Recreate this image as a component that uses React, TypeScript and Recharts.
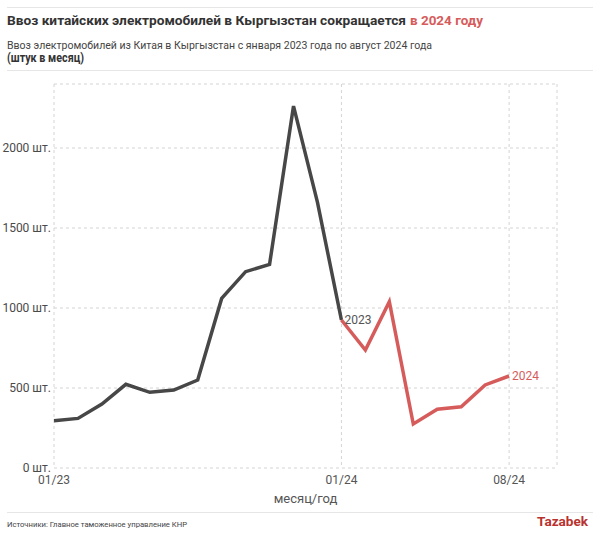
import { CartesianGrid, Line, LineChart, XAxis, YAxis } from "recharts";

// помесячный ввоз, шт.
const months = [
  "01/23", "02/23", "03/23", "04/23", "05/23", "06/23", "07/23", "08/23", "09/23", "10/23", "11/23", "12/23",
  "01/24", "02/24", "03/24", "04/24", "05/24", "06/24", "07/24", "08/24",
];
const values2023 = [295, 310, 400, 523, 473, 487, 550, 1060, 1227, 1273, 2262, 1660];
const values2024 = [925, 737, 1040, 275, 367, 383, 519, 575];
const xTicks = [0, 12, 19];
const yTicks = [0, 500, 1000, 1500, 2000];

const GRAY = "#474747";
const RED = "#d65c5c";
const FONT = "Roboto, 'Noto Sans', sans-serif";

// 2023 line runs through 01/24 so the two segments join
const data = months.map((m, i) => ({
  i,
  month: m,
  y2023: i < values2023.length ? values2023[i] : i === values2023.length ? values2024[0] : null,
  y2024: i >= values2023.length ? values2024[i - values2023.length] : null,
}));

const endLabel =
  (text: string, at: number, color: string) =>
  (p: any) =>
    p.index === at ? (
      <text x={p.x + 3} y={p.y} dy={4} fill={color} fontSize={12} fontFamily={FONT}>
        {text}
      </text>
    ) : null;

// plain text tick, no wrapping
const YTick = (p: any) => (
  <text x={p.x} y={p.y} dy={4} textAnchor="end" fill="#4a4a4a" fontSize={12} fontFamily={FONT}>
    {`${p.payload.value} шт.`}
  </text>
);

export default function App() {
  return (
    <div style={{ position: "relative", width: 600, height: 538, background: "#fff" }}>
      <style>{`body{margin:0}`}</style>

      <div style={{ position: "absolute", left: 0, top: 0 }}>
        <LineChart width={600} height={538} data={data} margin={{ top: 84, right: 43, bottom: 34, left: 0 }}>
          <CartesianGrid stroke="#d4d4d4" strokeDasharray="3 3" />
          <XAxis
            type="number"
            dataKey="i"
            domain={[0, 21]}
            ticks={xTicks}
            tickFormatter={(v) => months[v]}
            axisLine={false}
            tickLine={false}
            tickSize={0}
            tickMargin={7}
            height={36}
            tick={{ fontSize: 12, fill: "#555", fontFamily: FONT }}
            label={{ value: "месяц/год", position: "insideBottom", offset: 1, fontSize: 13, fill: "#555", fontFamily: FONT }}
          />
          <YAxis
            domain={[0, 2400]}
            ticks={yTicks}
            axisLine={false}
            tickLine={false}
            tickSize={0}
            tickMargin={3}
            width={54}
            tick={<YTick />}
          />
          <Line
            type="linear"
            dataKey="y2023"
            stroke={GRAY}
            strokeWidth={3.5}
            dot={false}
            activeDot={false}
            isAnimationActive={false}
            label={endLabel("2023", values2023.length, "#555")}
          />
          <Line
            type="linear"
            dataKey="y2024"
            stroke={RED}
            strokeWidth={3.5}
            dot={false}
            activeDot={false}
            isAnimationActive={false}
            label={endLabel("2024", months.length - 1, RED)}
          />
        </LineChart>
      </div>

      {/* header / footer as svg so widths match the narrow original font */}
      <svg width={600} height={538} style={{ position: "absolute", left: 0, top: 0, pointerEvents: "none" }} fontFamily={FONT}>
        <line x1={7} x2={593} y1={7.5} y2={7.5} stroke="#e6e6e6" />
        <text x={7} y={25} fontSize={13.4} fontWeight={700} fill="#333" textLength={399} lengthAdjust="spacingAndGlyphs">
          Ввоз китайских электромобилей в Кыргызстан сокращается
        </text>
        <text x={410} y={25} fontSize={13.4} fontWeight={700} fill={RED} textLength={73} lengthAdjust="spacingAndGlyphs">
          в 2024 году
        </text>
        <text x={7} y={49} fontSize={11.5} fill="#444" textLength={425} lengthAdjust="spacingAndGlyphs">
          Ввоз электромобилей из Китая в Кыргызстан с января 2023 года по август 2024 года
        </text>
        <text x={7} y={62} fontSize={12} fontWeight={700} fill="#333" textLength={77} lengthAdjust="spacingAndGlyphs">
          (штук в месяц)
        </text>
        <line x1={7} x2={593} y1={70.5} y2={70.5} stroke="#e6e6e6" />

        <line x1={7} x2={593} y1={512.5} y2={512.5} stroke="#e6e6e6" />
        <text x={7} y={527} fontSize={8} fill="#444" textLength={180} lengthAdjust="spacingAndGlyphs">
          Источники: Главное таможенное управление КНР
        </text>
        <text x={537} y={526} fontSize={12} fontWeight={700} fill="#b8322e" textLength={51} lengthAdjust="spacingAndGlyphs">
          Tazabek
        </text>
      </svg>
    </div>
  );
}
